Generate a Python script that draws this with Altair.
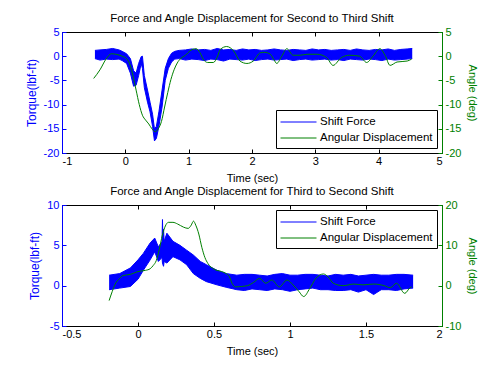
import altair as alt
import pandas as pd

BLUE = "#0000ff"
GREEN = "#008000"
FONT = "Liberation Sans"

# ---- Panel 1: Second to Third Shift ----
P1_FORCE_T = [-0.48, -0.4, -0.3, -0.2, -0.1, -0.05, 0.02, 0.08, 0.13, 0.17, 0.21, 0.25, 0.27,
              0.30, 0.35, 0.39, 0.43, 0.46, 0.49, 0.53, 0.58, 0.63, 0.68, 0.73, 0.78, 0.85,
              0.95, 1.05, 1.15, 1.25, 1.35, 1.45, 1.55, 1.65, 1.75, 1.85, 1.95, 2.05, 2.15,
              2.25, 2.35, 2.45, 2.55, 2.65, 2.75, 2.85, 2.95, 3.05, 3.15, 3.25, 3.35, 3.45,
              3.55, 3.65, 3.75, 3.85, 3.95, 4.05, 4.15, 4.25, 4.35, 4.45, 4.53]
P1_FORCE_LO = [-0.5, -0.8, -0.6, -0.7, -0.6, -0.9, -1.5, -3.5, -6.2, -6.0, -4.0, -1.5, -2.5,
               -6.5, -9.5, -11.5, -14.5, -17.5, -17.0, -14.5, -10.5, -5.0, -2.5, -1.2, -0.6, -0.5,
               -0.8, -0.6, -0.7, -0.9, -0.6, -0.7, -1.0, -0.6, -0.7, -0.8, -0.6, -0.9, -0.7,
               -0.6, -0.8, -0.7, -0.6, -0.9, -0.7, -0.6, -0.8, -0.7, -0.6, -0.8, -0.7, -0.9,
               -0.6, -0.7, -0.8, -0.6, -0.7, -0.9, -0.6, -0.8, -0.7, -0.6, -0.5]
P1_FORCE_HI = [1.2, 1.3, 1.4, 1.6, 1.3, 1.0, 0.5, -0.5, -3.0, -3.5, -1.5, -0.1, 0.0,
               -4.0, -7.0, -9.5, -12.0, -15.0, -14.5, -11.5, -7.0, -2.5, -0.5, 0.6, 1.0, 1.2,
               1.3, 1.5, 1.3, 1.4, 1.2, 1.6, 1.3, 1.4, 1.2, 1.5, 1.3, 1.4, 1.2, 1.3,
               1.5, 1.3, 1.2, 1.4, 1.3, 1.2, 1.5, 1.3, 1.4, 1.2, 1.3, 1.4, 1.2, 1.5,
               1.3, 1.2, 1.4, 1.3, 1.5, 1.2, 1.4, 1.5, 1.6]
P1_ANGLE_T = [-0.5, -0.4, -0.3, -0.22, -0.15, -0.05, 0.02, 0.08, 0.12, 0.17, 0.22, 0.27,
              0.32, 0.37, 0.42, 0.47, 0.52, 0.57, 0.62, 0.67, 0.72, 0.77, 0.82, 0.88, 0.95,
              1.02, 1.12, 1.18, 1.23, 1.30, 1.39, 1.45, 1.50, 1.60, 1.71, 1.81, 1.92, 2.02,
              2.13, 2.20, 2.29, 2.35, 2.39, 2.47, 2.55, 2.65, 2.76, 2.87, 3.03, 3.18, 3.28,
              3.41, 3.54, 3.70, 3.81, 3.91, 4.02, 4.10, 4.18, 4.29, 4.45, 4.52]
P1_ANGLE_V = [-4.6, -2.8, -0.5, 0.5, 0.4, 0.0, -0.5, -2.0, -4.0, -7.0, -10.0, -12.2,
              -13.2, -14.0, -15.0, -15.6, -15.0, -13.5, -10.5, -7.5, -4.8, -2.8, -1.4, -0.4, 0.2,
              1.1, 1.55, 0.7, -0.6, -1.3, -1.3, -0.2, 1.4, 2.0, 1.1, -1.0, -1.5, -1.0,
              0.7, 0.8, 0.4, -0.8, -1.5, 0.0, 1.55, 0.2, 0.2, 0.4, 0.4, -0.3, -1.9,
              -0.3, 0.2, 0.0, -1.3, 0.0, 1.55, 0.2, -1.9, -1.2, -1.0, -0.6]

# ---- Panel 2: Third to Second Shift ----
P2_FORCE_T = [-0.19, -0.12, -0.05, 0.0, 0.035, 0.08, 0.11, 0.134, 0.158, 0.161, 0.164, 0.168,
              0.172, 0.19, 0.23, 0.276, 0.32, 0.364, 0.41, 0.45, 0.52, 0.58, 0.65,
              0.70, 0.75, 0.80, 0.85, 0.90, 0.95, 1.00, 1.05, 1.10, 1.15, 1.20, 1.25, 1.30,
              1.35, 1.40, 1.45, 1.50, 1.55, 1.60, 1.65, 1.70, 1.75, 1.81]
P2_FORCE_LO = [-0.5, -0.3, -0.1, 0.8, 1.9, 3.2, 4.2, 3.0, 3.5, 2.8, 2.6, 2.4,
               3.0, 2.8, 3.6, 3.2, 2.6, 1.5, 0.9, 0.5, 0.1, -0.2, -0.5,
               -0.6, -0.4, -0.5, -0.6, -0.4, -0.5, -0.7, -0.5, -0.4, -0.3, -0.5, -0.5, -0.6,
               -0.6, -0.5, -0.8, -0.5, -1.1, -0.5, -0.5, -0.6, -0.4, -0.3]
P2_FORCE_HI = [1.3, 1.5, 2.2, 3.2, 4.0, 5.3, 5.9, 4.8, 5.5, 8.2, 5.5, 7.0,
               5.5, 6.5, 5.5, 5.0, 4.4, 3.8, 3.0, 2.6, 1.9, 1.5, 1.3,
               1.4, 1.4, 1.3, 1.2, 1.4, 1.5, 1.3, 1.3, 1.4, 1.4, 1.3, 1.2, 1.4,
               1.3, 1.4, 1.2, 1.3, 1.4, 1.3, 1.3, 1.4, 1.4, 1.3]
P2_ANGLE_T = [-0.19, -0.17, -0.15, -0.12, -0.10, -0.05, 0.00, 0.05, 0.08, 0.10, 0.12, 0.14,
              0.16, 0.18, 0.20, 0.23, 0.26, 0.30, 0.33, 0.35, 0.365, 0.38, 0.40, 0.42, 0.44,
              0.46, 0.50, 0.55, 0.58, 0.60, 0.62, 0.64, 0.68, 0.72, 0.76, 0.80, 0.84, 0.88,
              0.93, 0.98, 1.02, 1.06, 1.09, 1.13, 1.17, 1.22, 1.25, 1.285, 1.35, 1.42, 1.48,
              1.55, 1.62, 1.66, 1.70, 1.755, 1.79, 1.80]
P2_ANGLE_V = [-3.7, -1.5, 0.4, 1.8, 2.5, 2.8, 3.5, 3.8, 4.2, 5.0, 6.2, 9.0,
              12.5, 14.8, 15.7, 15.7, 15.3, 14.5, 14.2, 15.0, 16.0, 15.0, 12.8, 9.5, 7.0,
              5.5, 4.1, 3.5, 3.0, 2.3, 0.5, -0.3, -0.2, 0.0, 0.8, 1.8, 0.6, 1.4,
              -0.3, 1.4, 0.2, -1.5, -2.7, -0.7, 1.8, 2.9, 2.2, 0.6, 0.0, 0.4, 0.2,
              0.4, 0.0, -0.5, 0.6, -1.9, -0.5, -0.3]

SERIES = ["Shift Force", "Angular Displacement"]
LAB = "datum.value + ''"


def panel(ft, flo, fhi, at, av, xdom, xticks, fdom, fticks, adom, aticks, title, lorient):
    fdf = pd.DataFrame({"t": ft, "lo": flo, "hi": fhi, "series": SERIES[0]})
    adf = pd.DataFrame({"t": at, "a": av, "series": SERIES[1]})
    xs = alt.Scale(domain=xdom, nice=False, zero=False)
    fs = alt.Scale(domain=fdom, nice=False, zero=False)
    ascale = alt.Scale(domain=adom, nice=False, zero=False)
    color = alt.Color(
        "series:N",
        scale=alt.Scale(domain=SERIES, range=[BLUE, GREEN]),
        legend=alt.Legend(orient=lorient, title=None, offset=5, strokeColor="black",
                          fillColor="white", padding=4, symbolType="M-1,0L3.8,0",
                          symbolSize=225, symbolStrokeWidth=1, labelFontSize=11.5,
                          labelOffset=24, rowPadding=2, labelFont=FONT, labelColor="black"),
    )
    common = dict(labelFont=FONT, titleFont=FONT, labelFontSize=11, titleFontSize=11,
                  titleFontWeight="normal", grid=False)
    tick_only = dict(labels=False, domain=False, title=None, grid=False, offset=-4,
                     tickSize=4, minExtent=0, maxExtent=0)
    x_main = alt.Axis(values=xticks, orient="bottom", title="Time (sec)", domainColor="black",
                      ticks=False, tickSize=0, labelPadding=2, labelExpr=LAB,
                      titlePadding=6, labelColor="black", titleColor="black", **common)
    x_bt = alt.Axis(values=xticks, orient="bottom", tickColor="black", **tick_only)
    x_tt = alt.Axis(values=xticks, orient="top", tickColor="black", **tick_only)
    y_fm = alt.Axis(values=fticks, orient="left", title="Torque(lbf-ft)", titleColor=BLUE,
                    labelColor=BLUE, domainColor=BLUE, ticks=False, tickSize=0, labelPadding=3,
                    labelExpr=LAB, titlePadding=5, labelFont=FONT, titleFont=FONT,
                    labelFontSize=11, titleFontSize=12, titleFontWeight="normal", grid=False)
    y_ft = alt.Axis(values=fticks, orient="left", tickColor=BLUE, **tick_only)
    y_am = alt.Axis(values=aticks, orient="right", title="Angle (deg)", titleColor=GREEN,
                    labelColor=GREEN, domainColor=GREEN, ticks=False, tickSize=0, labelPadding=3,
                    labelExpr=LAB, titlePadding=6, **common)
    y_at = alt.Axis(values=aticks, orient="right", tickColor=GREEN, **tick_only)

    area = alt.Chart(fdf).mark_area(color=BLUE, opacity=1).encode(
        x=alt.X("t:Q", scale=xs, axis=x_main),
        y=alt.Y("lo:Q", scale=fs, axis=y_fm),
        y2="hi:Q",
    )
    lo_line = alt.Chart(fdf).mark_line(strokeWidth=1).encode(
        x=alt.X("t:Q", scale=xs, axis=x_bt),
        y=alt.Y("lo:Q", scale=fs, axis=y_ft),
        color=color,
    )
    hi_line = alt.Chart(fdf).mark_line(strokeWidth=1, color=BLUE).encode(
        x=alt.X("t:Q", scale=xs, axis=x_tt),
        y=alt.Y("hi:Q", scale=fs, axis=None),
    )
    force = alt.layer(area, lo_line, hi_line).resolve_axis(x="independent", y="independent")

    ang = alt.Chart(adf).mark_line(strokeWidth=1, interpolate="monotone").encode(
        x=alt.X("t:Q", scale=xs, axis=None),
        y=alt.Y("a:Q", scale=ascale, axis=y_am),
        color=color,
    )
    ang_t = alt.Chart(adf).mark_line(opacity=0).encode(
        x=alt.X("t:Q", scale=xs, axis=None),
        y=alt.Y("a:Q", scale=ascale, axis=y_at),
    )
    angle = alt.layer(ang, ang_t).resolve_axis(y="independent")

    return alt.layer(force, angle).resolve_scale(y="independent").resolve_axis(
        x="independent").properties(
        width=380, height=121,
        title=alt.TitleParams(title, fontSize=11.5, fontWeight="normal", font=FONT, offset=2,
                              anchor="middle", color="black"),
    )


top = panel(P1_FORCE_T, P1_FORCE_LO, P1_FORCE_HI, P1_ANGLE_T, P1_ANGLE_V,
            [-1, 5], [-1, 0, 1, 2, 3, 4, 5], [-20, 5], [-20, -15, -10, -5, 0, 5],
            [-20, 5], [-20, -15, -10, -5, 0, 5],
            "Force and Angle Displacement for Second to Third Shift", "bottom-right")
bottom = panel(P2_FORCE_T, P2_FORCE_LO, P2_FORCE_HI, P2_ANGLE_T, P2_ANGLE_V,
               [-0.5, 2], [-0.5, 0, 0.5, 1, 1.5, 2], [-5, 10], [-5, 0, 5, 10],
               [-10, 20], [-10, 0, 10, 20],
               "Force and Angle Displacement for Third to Second Shift", "top-right")

chart = alt.vconcat(top, bottom, spacing=1).resolve_scale(color="independent").properties(
    padding={"left": 16, "top": 4, "right": 0, "bottom": 2},
    background="white",
).configure_view(stroke="black", strokeWidth=1)

chart.save("out.html", embed_options={"renderer": "svg", "actions": False})
